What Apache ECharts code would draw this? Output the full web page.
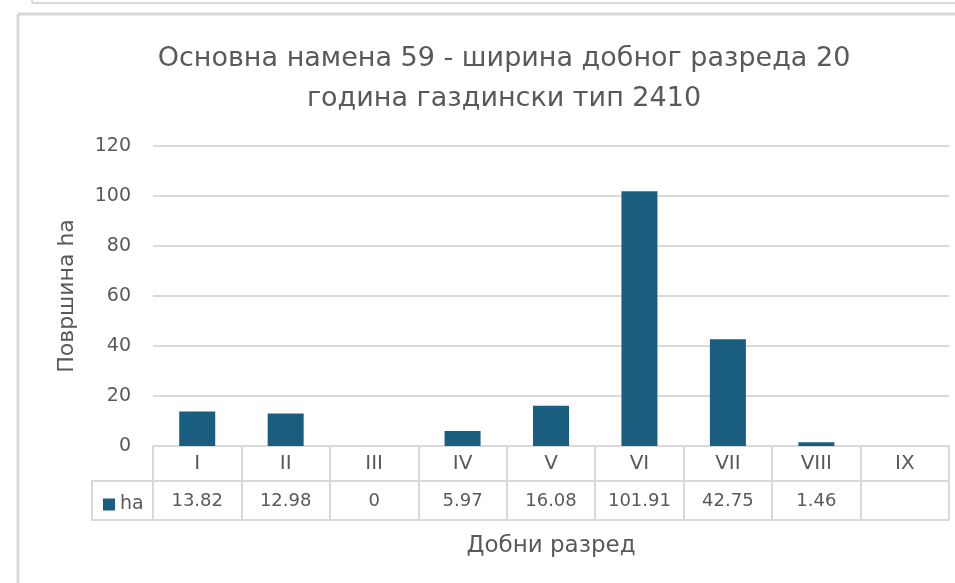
<!DOCTYPE html>
<html>
<head>
<meta charset="utf-8">
<script src="https://cdn.jsdelivr.net/npm/echarts@6/dist/echarts.min.js"></script>
<style>
  html, body { margin: 0; padding: 0; background: #fff; overflow: hidden; }
  #chart { width: 955px; height: 583px; }
</style>
</head>
<body>
<div id="chart"></div>
<script>
// data
const categories = ["I", "II", "III", "IV", "V", "VI", "VII", "VIII", "IX"];
const values = [13.82, 12.98, 0, 5.97, 16.08, 101.91, 42.75, 1.46, null];
const seriesName = "ha";
const yTicks = { min: 0, max: 120, interval: 20 };

const tableText = values.map(v => (v === null ? "" : String(v)));

const textColor = "#595959";
const lineColor = "#d9d9d9";
const barColor = "#195e7f";
const font = "DejaVu Sans";

const chart = echarts.init(document.getElementById("chart"));

chart.setOption({
  animation: false,
  textStyle: { fontFamily: font },
  title: {
    text: "Основна намена 59 - ширина добног разреда 20\nгодина газдински тип 2410",
    left: 499,
    textAlign: "center",
    top: 34,
    textStyle: {
      color: textColor,
      fontSize: 27,
      fontWeight: "normal",
      lineHeight: 40,
      fontFamily: font
    }
  },
  legend: {
    left: 98,
    top: 490,
    icon: "rect",
    itemWidth: 12,
    itemHeight: 12,
    itemGap: 4,
    textStyle: { color: textColor, fontSize: 19, fontFamily: font },
    data: [seriesName]
  },
  grid: { left: 153, right: 6, top: 146, bottom: 137, containLabel: false },
  xAxis: [
    {
      type: "category",
      data: categories,
      position: "bottom",
      axisLine: { show: true, lineStyle: { color: lineColor, width: 2 } },
      axisTick: { show: true, length: 35, lineStyle: { color: lineColor, width: 2 } },
      axisLabel: { color: textColor, fontSize: 20, margin: 8, fontFamily: font }
    },
    {
      type: "category",
      data: tableText,
      position: "bottom",
      offset: 35,
      axisLine: { show: true, lineStyle: { color: lineColor, width: 2 } },
      axisTick: { show: true, length: 39, lineStyle: { color: lineColor, width: 2 } },
      axisLabel: { color: textColor, fontSize: 18, margin: 11, interval: 0, fontFamily: font }
    },
    {
      type: "category",
      data: categories,
      position: "bottom",
      offset: 74,
      name: "Добни разред",
      nameLocation: "middle",
      nameGap: 15,
      nameTextStyle: { color: textColor, fontSize: 23, fontFamily: font },
      axisLine: { show: true, lineStyle: { color: lineColor, width: 2 } },
      axisTick: { show: false },
      axisLabel: { show: false }
    }
  ],
  yAxis: {
    type: "value",
    min: yTicks.min,
    max: yTicks.max,
    interval: yTicks.interval,
    name: "Површина ha",
    nameLocation: "middle",
    nameGap: 75,
    nameTextStyle: { color: textColor, fontSize: 22, fontFamily: font },
    axisLine: { show: false },
    axisTick: { show: false },
    axisLabel: { color: textColor, fontSize: 19, margin: 22, fontFamily: font },
    splitLine: { lineStyle: { color: lineColor, width: 2 } }
  },
  series: [
    {
      name: seriesName,
      type: "bar",
      data: values,
      barWidth: 36,
      itemStyle: { color: barColor }
    }
  ],
  graphic: [
    // outer frames of the screenshot
    { type: "line", shape: { x1: 32, y1: 0, x2: 32, y2: 3 }, style: { stroke: lineColor, lineWidth: 2 } },
    { type: "line", shape: { x1: 32, y1: 3, x2: 955, y2: 3 }, style: { stroke: lineColor, lineWidth: 2 } },
    { type: "line", shape: { x1: 18, y1: 14, x2: 955, y2: 14 }, style: { stroke: lineColor, lineWidth: 3 } },
    { type: "line", shape: { x1: 18, y1: 14, x2: 18, y2: 583 }, style: { stroke: lineColor, lineWidth: 3 } },
    // legend cell of the data table
    {
      type: "polyline",
      shape: { points: [[153, 481], [92, 481], [92, 520], [153, 520]] },
      style: { stroke: lineColor, lineWidth: 2, fill: null }
    }
  ]
});
</script>
</body>
</html>
